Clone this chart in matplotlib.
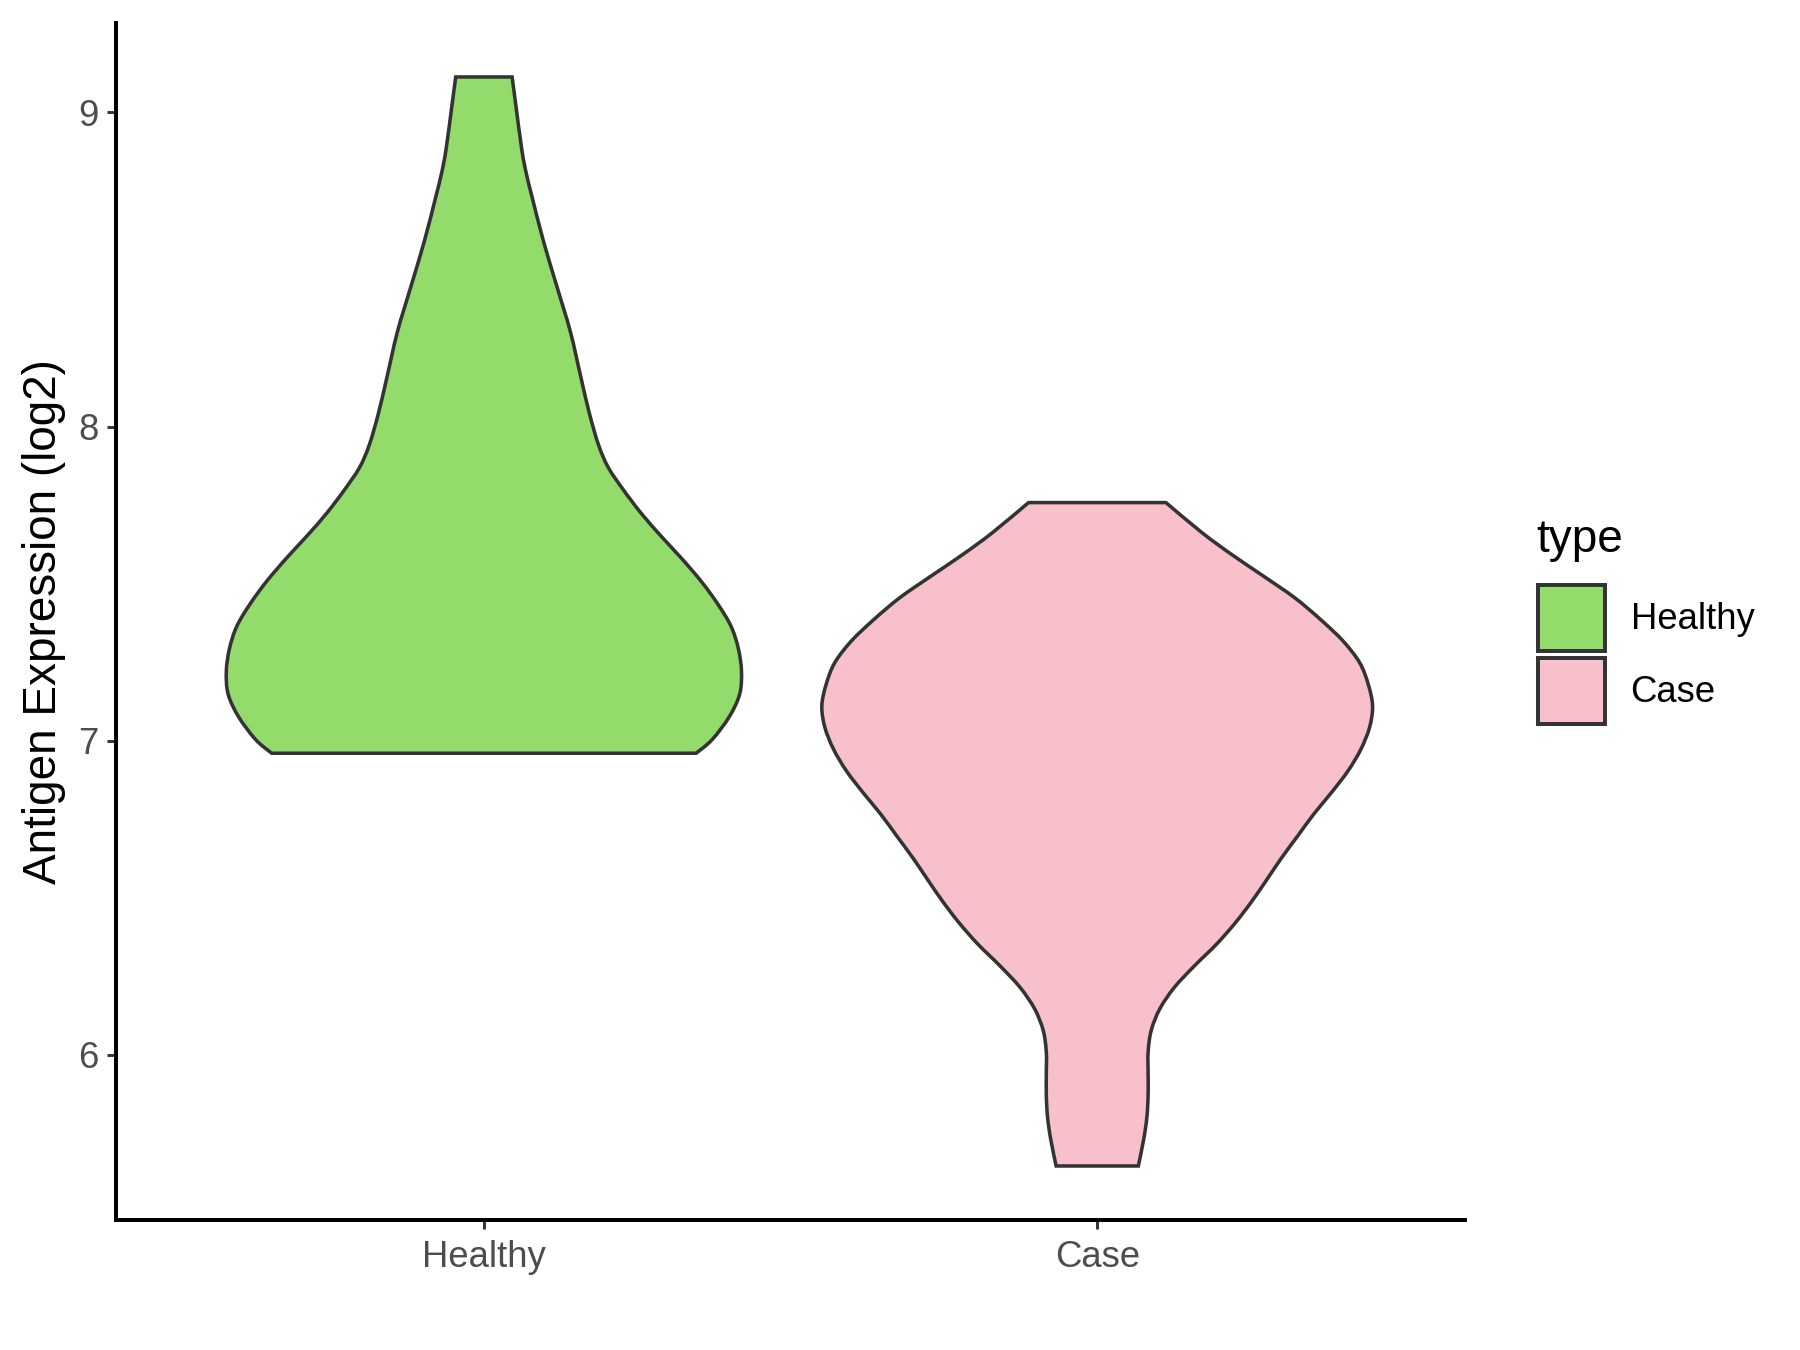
import matplotlib
matplotlib.use("Agg")
import matplotlib.pyplot as plt
from matplotlib.patches import Patch, PathPatch
from matplotlib.path import Path
import numpy as np

plt.rcParams['font.family'] = ['Liberation Sans', 'DejaVu Sans']

# groups shown on the x axis
categories = ["Healthy", "Case"]
colors = ["#93DB6B", "#F7C0CB"]

# violin outline: expression value and half width (x units)
healthy_y = [9.113, 9.024, 8.879, 8.807, 8.735, 8.591, 8.446, 8.302, 8.158,
             8.042, 7.941, 7.869, 7.797, 7.725, 7.653, 7.581, 7.508, 7.436,
             7.364, 7.292, 7.220, 7.148, 7.076, 7.003, 6.960]
healthy_hw = [0.046, 0.052, 0.062, 0.069, 0.078, 0.097, 0.119, 0.141, 0.158,
              0.172, 0.187, 0.203, 0.228, 0.256, 0.288, 0.322, 0.354, 0.381,
              0.403, 0.415, 0.420, 0.417, 0.400, 0.372, 0.346]

case_y = [7.758, 7.662, 7.593, 7.524, 7.455, 7.386, 7.317, 7.248, 7.179,
          7.110, 7.042, 6.973, 6.904, 6.835, 6.766, 6.697, 6.628, 6.559,
          6.491, 6.422, 6.353, 6.284, 6.215, 6.146, 6.077, 6.008, 5.939,
          5.871, 5.802, 5.733, 5.646]
case_hw = [0.112, 0.171, 0.219, 0.271, 0.322, 0.364, 0.401, 0.428, 0.442,
           0.449, 0.444, 0.430, 0.409, 0.382, 0.353, 0.327, 0.301, 0.277,
           0.253, 0.226, 0.195, 0.159, 0.126, 0.102, 0.088, 0.083, 0.083,
           0.083, 0.081, 0.076, 0.067]

profiles = [(healthy_y, healthy_hw), (case_y, case_hw)]


def smooth_side(pts):
    # catmull-rom through the points, drawn as cubic bezier pieces
    verts, codes = [], []
    n = len(pts)
    for i in range(n - 1):
        p0 = pts[max(i - 1, 0)]
        p1 = pts[i]
        p2 = pts[i + 1]
        p3 = pts[min(i + 2, n - 1)]
        c1 = p1 + (p2 - p0) / 6.0
        c2 = p2 - (p3 - p1) / 6.0
        verts += [c1, c2, p2]
        codes += [Path.CURVE4] * 3
    return verts, codes


def violin_path(pos, ys, hw):
    ys = np.array(ys)
    hw = np.array(hw)
    right = np.column_stack([pos + hw, ys])
    left = np.column_stack([pos - hw, ys])[::-1]
    verts = [right[0]]
    codes = [Path.MOVETO]
    v, c = smooth_side(right)
    verts += v
    codes += c
    verts.append(left[0])
    codes.append(Path.LINETO)
    v, c = smooth_side(left)
    verts += v
    codes += c
    verts.append(right[0])
    codes.append(Path.CLOSEPOLY)
    return Path(np.array(verts), codes)


fig = plt.figure(figsize=(12, 9), dpi=150)
ax = fig.add_axes([0.0644, 0.0963, 0.7496, 0.8867])

for i, (ys, hw) in enumerate(profiles):
    p = PathPatch(violin_path(i + 1, ys, hw), facecolor=colors[i],
                  edgecolor="#333333", linewidth=1.7, joinstyle="miter", zorder=2)
    ax.add_patch(p)

ax.set_xlim(0.4, 2.6)
ax.set_ylim(5.474, 9.285)
ax.set_xticks([1, 2])
ax.set_xticklabels(categories)
ax.set_yticks([6, 7, 8, 9])

for s in ["top", "right"]:
    ax.spines[s].set_visible(False)
for s in ["left", "bottom"]:
    ax.spines[s].set_linewidth(1.9)
    ax.spines[s].set_color("black")
    ax.spines[s].set_capstyle("projecting")

ax.tick_params(axis="both", colors="#333333", length=4.3, width=1.4,
               labelsize=17.5, labelcolor="#4D4D4D", pad=4)
ax.tick_params(axis="x", pad=5.5)
ax.set_ylabel("Antigen Expression (log2)", fontsize=22, color="black", labelpad=6)

handles = [Patch(facecolor=colors[i], edgecolor="#333333", linewidth=1.9)
           for i in range(len(categories))]
leg = fig.legend(handles, categories, loc="upper left",
                 bbox_to_anchor=(0.8546, 0.567), frameon=False, fontsize=17.5,
                 handlelength=1.83, handleheight=2.44, borderpad=0,
                 borderaxespad=0, labelspacing=0.17, handletextpad=0.7)
fig.text(0.8535, 0.600, "type", fontsize=22, va="center", ha="left")

fig.savefig("out.png", dpi=150)
